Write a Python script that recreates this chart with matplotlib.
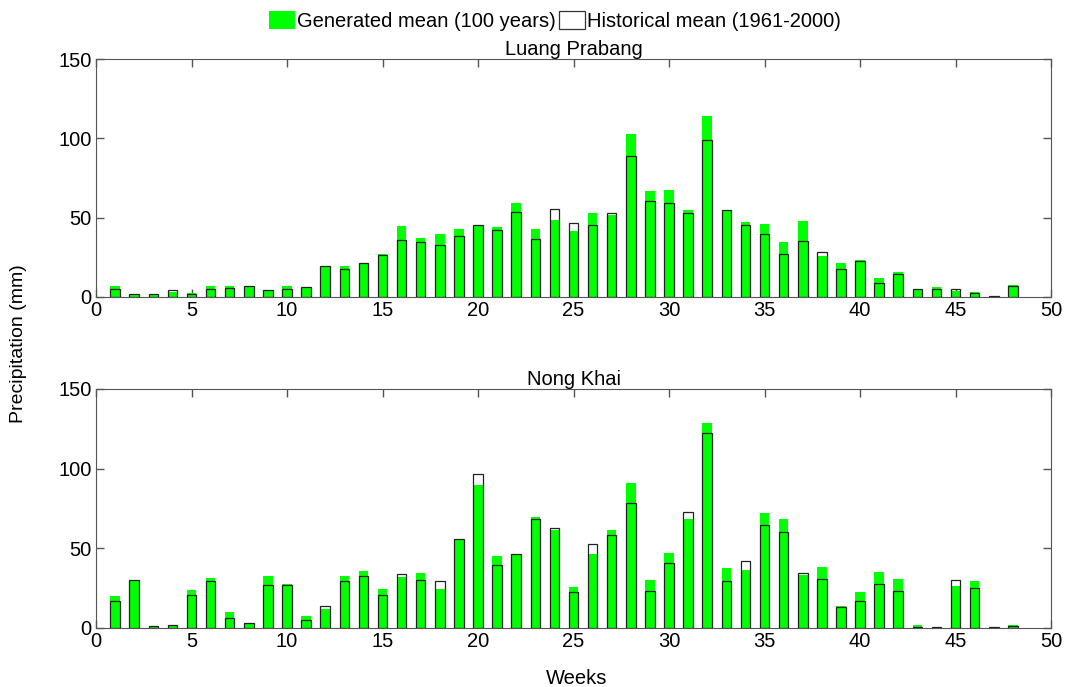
import numpy as np
import matplotlib
matplotlib.use('Agg')
from matplotlib import pyplot as plt
from matplotlib.patches import Patch

plt.rcParams['font.family'] = ['Liberation Sans', 'DejaVu Sans']

weeks = np.arange(1, 49)

# Luang Prabang
lp_gen = [7.1, 1.5, 1.9, 2.9, 2.2, 7.1, 7.1, 6.7, 4.6, 6.7, 5.7, 18.7,
          19.7, 21.0, 27.1, 45.0, 37.4, 39.7, 42.9, 45.0, 44.3, 59.0, 42.9, 48.5,
          41.6, 52.9, 51.5, 102.9, 66.8, 67.2, 54.8, 113.9, 54.2, 47.3, 46.2, 34.7,
          47.7, 26.1, 21.4, 23.1, 12.0, 16.0, 5.0, 6.5, 4.0, 2.9, 0.6, 7.8]
lp_hist = [5.3, 1.9, 2.0, 4.6, 2.0, 5.3, 5.9, 6.7, 4.6, 5.3, 6.3, 19.5,
           17.9, 21.4, 26.7, 36.1, 34.9, 33.0, 38.7, 45.6, 42.2, 53.6, 36.6, 55.7,
           46.4, 45.4, 52.9, 89.1, 60.5, 59.2, 53.2, 99.2, 54.6, 45.4, 39.7, 27.3,
           35.3, 28.6, 17.9, 22.9, 9.0, 14.5, 5.0, 5.3, 5.0, 2.5, 0.6, 7.1]

# Nong Khai
nk_gen = [20.0, 29.6, 1.3, 1.5, 23.7, 31.5, 9.9, 3.2, 32.4, 27.9, 7.6, 11.8,
          32.4, 35.5, 24.6, 31.7, 34.7, 24.6, 55.3, 89.5, 45.0, 46.2, 69.5, 61.6,
          25.6, 46.2, 61.3, 90.8, 30.3, 47.3, 68.3, 128.4, 37.8, 36.1, 72.1, 68.1,
          33.4, 38.2, 14.1, 22.3, 34.9, 30.5, 1.7, 0.6, 26.1, 29.8, 0.4, 2.1]
nk_hist = [17.2, 30.0, 1.3, 1.9, 21.0, 29.2, 6.3, 3.2, 26.7, 26.9, 5.3, 13.9,
           29.8, 32.6, 21.0, 33.6, 30.3, 29.2, 55.7, 96.4, 39.3, 46.6, 68.1, 62.6,
           22.3, 52.9, 58.2, 78.2, 23.5, 40.5, 72.5, 122.5, 29.2, 41.8, 64.7, 60.1,
           34.7, 30.5, 13.0, 17.2, 27.9, 23.5, 0.8, 0.6, 30.3, 25.2, 0.4, 1.5]

stations = ['Luang Prabang', 'Nong Khai']
gens = [lp_gen, nk_gen]
hists = [lp_hist, nk_hist]

fig = plt.figure(figsize=(10.69, 6.87), dpi=100)
axes = [fig.add_axes([0.0898, 0.5677, 0.8934, 0.3464]),
        fig.add_axes([0.0898, 0.0859, 0.8934, 0.3479])]

for ax, name, g, h in zip(axes, stations, gens, hists):
    ax.bar(weeks, g, width=0.5, color='#00ff00', edgecolor='none', zorder=2)
    ax.bar(weeks, h, width=0.5, facecolor='none', edgecolor='#222222',
           linewidth=0.9, zorder=3)
    ax.set_xlim(0, 50)
    ax.set_ylim(0, 150)
    ax.set_xticks(np.arange(0, 51, 5))
    ax.set_yticks([0, 50, 100, 150])
    ax.tick_params(direction='in', top=True, right=True, length=6,
                   labelsize=14.5, color='#555555', width=1, pad=3)
    for s in ax.spines.values():
        s.set_color('#555555')
    ax.set_title(name, fontsize=14.5, pad=3)

fig.text(0.017, 0.5, 'Precipitation (mm)', rotation=90, fontsize=14,
         ha='center', va='center')
fig.text(0.539, 0.013, 'Weeks', fontsize=14.5, ha='center', va='center')

handles = [Patch(facecolor='#00ff00', edgecolor='none'),
           Patch(facecolor='white', edgecolor='#333333', linewidth=0.9)]
fig.legend(handles, ['Generated mean (100 years)', 'Historical mean (1961-2000)'],
           loc='center', bbox_to_anchor=(0.519, 0.97), ncol=2, frameon=False,
           fontsize=14.5, handlelength=1.3, handleheight=1.0, handletextpad=0.1,
           columnspacing=0.15, borderpad=0.1)

fig.savefig('out.png', dpi=100)
